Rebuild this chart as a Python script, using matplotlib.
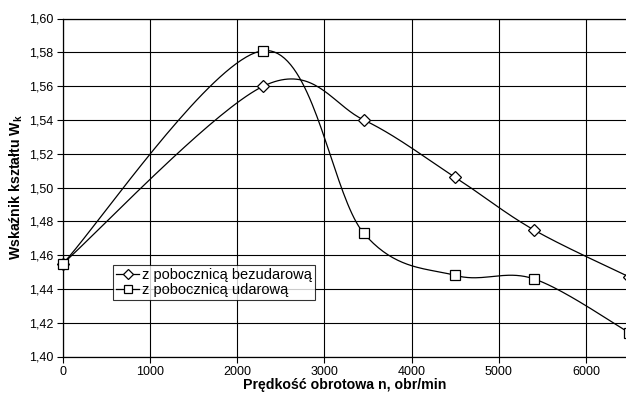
import numpy as np
import matplotlib
matplotlib.use("Agg")
import matplotlib.pyplot as plt

plt.rcParams['font.family'] = ['Liberation Sans', 'DejaVu Sans']
plt.rcParams['mathtext.fontset'] = 'custom'
plt.rcParams['mathtext.rm'] = 'Liberation Sans'
plt.rcParams['mathtext.bf'] = 'Liberation Sans:bold'

# dane
obroty = [0, 2300, 3450, 4500, 5400, 6500]
wk_bezudarowa = [1.455, 1.560, 1.540, 1.506, 1.475, 1.447]
wk_udarowa = [1.455, 1.581, 1.473, 1.448, 1.446, 1.414]

etykiety = ["z pobocznicą bezudarową", "z pobocznicą udarową"]
x_ticks = [0, 1000, 2000, 3000, 4000, 5000, 6000]
y_ticks = [1.40, 1.42, 1.44, 1.46, 1.48, 1.50, 1.52, 1.54, 1.56, 1.58, 1.60]
X_MAX = 6460


def wygladz(xs, ys, sx, sy, n=40):
    # wygładzanie w stylu Excela (Bezier z punktami kontrolnymi 1/6)
    px = np.asarray(xs, float) * sx
    py = np.asarray(ys, float) * sy
    P = np.column_stack([px, py])
    out = [P[0]]
    t = np.linspace(0, 1, n)[1:, None]
    for i in range(len(P) - 1):
        p0 = P[i - 1] if i > 0 else P[i]
        p1, p2 = P[i], P[i + 1]
        p3 = P[i + 2] if i + 2 < len(P) else P[i + 1]
        c1 = p1 + (p2 - p0) / 6
        c2 = p2 - (p3 - p1) / 6
        seg = ((1 - t) ** 3) * p1 + 3 * ((1 - t) ** 2) * t * c1 + 3 * (1 - t) * t ** 2 * c2 + t ** 3 * p2
        out.extend(seg)
    out = np.array(out)
    return out[:, 0] / sx, out[:, 1] / sy


fig = plt.figure(figsize=(6.26, 3.96), dpi=100)
ax = fig.add_axes([63 / 626, 39.5 / 396, (626 - 63) / 626, 338 / 396])

# skala pikselowa do wygładzania
sx = 563 / X_MAX
sy = 338 / 0.20

for ys, mk, lab in [(wk_bezudarowa, 'D', etykiety[0]), (wk_udarowa, 's', etykiety[1])]:
    ms = 7 if mk == 's' else 6
    xx, yy = wygladz(obroty, ys, sx, sy)
    ax.plot(xx, yy, color='black', lw=0.9)
    ax.plot(obroty, ys, linestyle='none', marker=mk, markersize=ms,
            markerfacecolor='white', markeredgecolor='black', markeredgewidth=0.9,
            clip_on=False, zorder=3)
    # wpis legendy
    ax.plot([], [], color='black', lw=0.9, marker=mk, markersize=ms - 1,
            markerfacecolor='white', markeredgecolor='black', markeredgewidth=0.9,
            label=lab)

ax.set_xlim(0, X_MAX)
ax.set_ylim(1.40, 1.60)
ax.set_xticks(x_ticks)
ax.set_yticks(y_ticks)
ax.set_xticklabels([str(v) for v in x_ticks], fontsize=9)
ax.set_yticklabels([f"{v:.2f}".replace('.', ',') for v in y_ticks], fontsize=9)
ax.tick_params(direction='out', length=4, width=0.8, color='black', pad=3)
ax.grid(True, color='black', lw=0.8)
ax.set_axisbelow(True)
ax.spines['right'].set_visible(False)
for s in ax.spines.values():
    s.set_linewidth(0.9)

ax.set_xlabel("Prędkość obrotowa n, obr/min", fontsize=10.2, fontweight='bold', labelpad=0)
ax.set_ylabel(r"Wskaźnik kształtu $\mathbf{W_k}$", fontsize=10.2, fontweight='bold', labelpad=3)

leg = ax.legend(loc='upper left', bbox_to_anchor=(50 / 563, (356.7 - 265) / 338),
                fontsize=10.5, frameon=True, fancybox=False, edgecolor='black',
                borderpad=0.2, labelspacing=0.12, handlelength=1.6, handletextpad=0.2,
                borderaxespad=0)
leg.get_frame().set_linewidth(0.8)

fig.savefig("out.png", dpi=100)
